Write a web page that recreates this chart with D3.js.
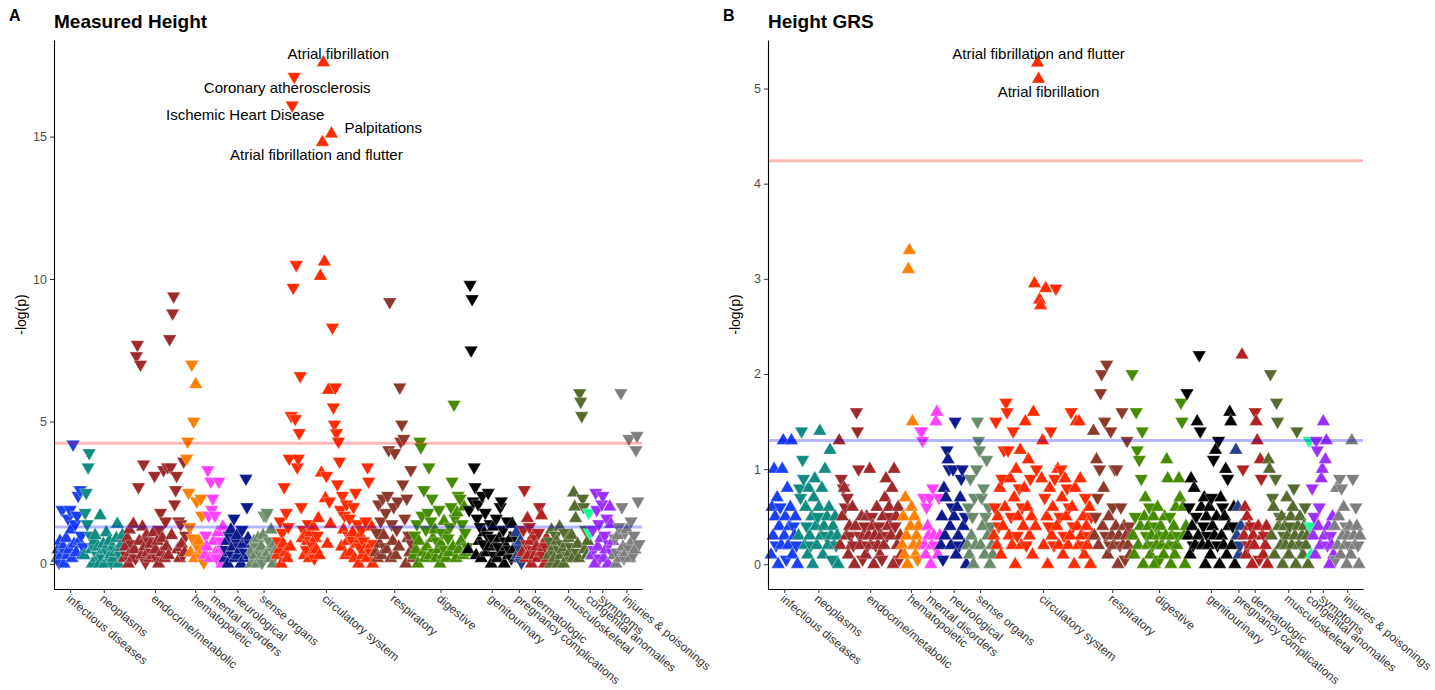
<!DOCTYPE html>
<html>
<head>
<meta charset="utf-8">
<script src="https://cdn.jsdelivr.net/npm/d3@7"></script>
<style>
  body { margin: 0; background: #fff; font-family: "Liberation Sans", Arial, sans-serif; }
</style>
</head>
<body>
<script>
const categories = ["infectious diseases", "neoplasms", "endocrine/metabolic", "hematopoietic",
    "mental disorders", "neurological", "sense organs", "circulatory system", "respiratory",
    "digestive", "genitourinary", "pregnancy complications", "dermatologic", "musculoskeletal",
    "congenital anomalies", "symptoms", "injuries & poisonings"];

const colors = ["#1a40f5", "#128c83", "#9e2a2b", "#ff7f00", "#ff40ff", "#0b1a8c", "#6b8a6b",
    "#ff2a00", "#8b3a2b", "#468c00", "#000000", "#27408b", "#b22222", "#556b2f", "#19ff9a",
    "#9b30ff", "#7f7f7f"];

// -log(p) per phenotype, one list per category in phecode order.
// negative sign = negative association (drawn as a down triangle)
const measuredHeight = [
    [0.2,0.5,-0.05,0.8,0.3,-1.9,0.6,0.0,-0.4,0.9, 0.3,-1.6,0.5,-1.9,1.2,0.2,-4.2,0.7,-1.4,0.4,
     -1.7,-2.4,0.8,-2.6,-1.0,0.3,-0.6],
    [0.3,-1.8,-2.5,-1.4,-3.4,-3.9,-1.0,0.5,0.0,-0.6, 0.8,1.0,0.2,-0.3,0.6,0.0,1.7,0.4,-0.2,0.7,
     0.0,0.5,1.1,-0.4,0.2,0.8,0.3,-0.05,0.6,0.2, -0.5,0.4,0.9,1.4,0.0,0.5,-0.3,0.7,1.0,0.2],
    [0.2,0.6,-0.3,0.9,0.0,1.2,0.4,-0.7,0.2,1.4, 0.5,-0.2,-7.3,-7.7,-2.7,0.8,-7.0,0.3,1.3,-3.5,
     0.6,-0.05,1.0,0.4,-0.8,0.2,0.7,-0.4,0.3,1.1, -3.1,0.5,-0.2,0.8,0.0,-1.2,-1.8,0.4,0.9,-3.3,
     0.2,-1.5,0.6,-3.4,0.3,-7.9,-3.4,1.0,-8.8,-9.4, -2.1,-2.6,-3.1,0.5,-1.5,0.2,-1.4,0.7,-0.3,-3.6,
     0.4,-1.0],
    [-3.7,-4.3,-2.5,-1.3,0.4,-7.0,-0.9,-5.0,0.2,6.3, -2.2,-0.6,0.8,-0.3,-2.3,-1.7,0.5,-0.05],
    [0.3,-1.0,0.6,-3.3,-1.7,0.2,-2.9,-1.9,-2.3,0.8, -1.7,0.4,-0.2,1.1,-2.9,0.5,-0.8,0.0,1.3,-0.4],
    [0.2,-0.5,0.8,0.0,-1.0,0.4,1.2,-0.3,0.6,-1.6, 0.2,-0.8,1.0,0.3,-0.6,0.5,0.0,-1.2,0.7,0.2,
     -0.4,-3.0,-2.0,0.9,0.3,-0.7],
    [0.0,0.5,-0.2,0.8,0.3,-0.6,0.0,0.9,-0.4,0.2, 0.6,-0.05,1.0,-1.7,0.3,-1.7,-1.8,0.4,-0.8,0.2,
     1.2,-0.5,0.0,0.7,-0.3,0.5],
    [0.3,-0.8,0.5,-1.5,0.0,-1.1,0.7,-2.7,0.4,-1.8, 0.2,-1.3,-3.7,0.6,-5.2,-16.1,-9.7,-17.1,-5.1,-10.5,
     -3.4,-3.7,-4.6,-6.6,-2.0,0.9,-1.2,0.3,1.0,-0.5, 0.8,-1.4,0.2,1.1,-0.7,0.4,1.3,-0.2,0.9,0.5,
     -1.0,1.6,0.3,10.1,3.2,14.8,17.6,10.6,2.3,-3.1, 0.7,6.1,-2.2,1.4,15.1,-8.3,-5.5,-4.9,-6.2,-4.6,
     -2.8,-4.3,-3.6,-1.9,0.6,-2.4,1.2,-1.7,0.3,-2.1, 0.8,-1.0,-1.6,0.4,-0.9,1.1,-2.0,0.2,-2.5,0.7,
     -1.4,0.0,-0.6,1.0,-1.2,0.3,-0.8,0.5,-1.5,0.2, -3.4,-2.9,0.6,-0.4,1.3,0.0,-0.7,0.4],
    [0.4,-1.1,0.2,-2.1,0.7,-1.5,0.3,-2.3,1.0,-0.6, -1.8,0.5,-2.4,-4.0,-9.2,0.2,-1.4,0.8,-2.0,-3.9,
     0.3,-1.2,-2.2,0.6,-6.2,-4.3,-4.9,-2.8,-4.4,-1.6, 0.0,-2.3,0.9,-1.0,0.4,-3.3,-0.7,0.2],
    [0.3,-1.0,0.5,-1.4,0.0,0.8,-4.3,-4.1,-1.7,0.4, -2.6,0.2,-1.2,0.6,-1.8,-3.4,0.3,-1.5,-2.3,0.9,
     -0.4,1.2,0.2,-0.8,0.5,-1.9,0.0,0.7,-1.1,0.3, 1.5,-0.5,0.2,1.0,-0.9,0.4,-1.3,-2.0,-2.9,0.6,
     -5.6,-1.6,0.2,1.8,-2.4,0.5,-2.3,0.8,-1.4,0.3, 2.0,-1.1,0.4,-0.6],
    [0.5,-1.9,-9.8,-7.5,-9.3,-2.2,-3.4,-2.7,0.3,-1.6, -2.1,0.8,-1.3,0.2,-2.4,-0.7,1.1,-1.8,0.4,-1.0,
     -2.5,0.6,-1.4,0.0,-0.9,1.3,-0.3,0.7,-1.6,0.2, -0.6,0.9,-2.0,-2.2,0.4,-1.2,0.0,-0.8,0.6,-1.5,
     0.3,-0.5,0.9,-0.2,1.4,0.5,-1.0,0.2],
    [1.1,0.3,-0.6,0.2,0.8,-0.05],
    [0.4,-1.2,-2.6,0.2,-0.7,1.6,0.3,-1.3,0.8,0.0, -0.5,1.0,0.3,-0.9,0.6,0.2,-1.1,-2.0,0.4,1.7,
     -0.3,0.7,0.0,-0.6,0.9,0.2],
    [0.3,-0.8,0.0,1.2,-0.4,0.6,0.2,-1.0,0.8,0.0, -0.5,1.3,0.3,-0.7,0.5,0.0,-1.1,0.7,0.2,-0.3,
     0.9,0.4,-0.6,1.0,0.2,2.5,2.0,1.6,-0.4,0.7, 0.2,-6.0,-5.7,-5.2,-2.3,-2.0,0.5,-1.2,0.3,0.8],
    [-1.8,-1.1,0.3],
    [0.3,-1.2,-0.5,0.0,-2.5,-1.9,0.6,-1.4,-0.2,0.9, -2.1,-2.4,0.2,-1.0,0.5,-1.6,0.0,-0.7,2.0,1.4,
     -0.4,0.8],
    [0.3,-0.9,0.0,-0.4,1.0,-1.3,0.2,-6.0,-2.0,0.6, -0.2,-1.1,0.4,1.2,-0.6,-4.4,0.2,-1.5,0.8,-0.3,
     -1.0,0.5,-4.0,-4.5,-2.2,-0.7]
];

const heightGRS = [
    [0.1,0.6,0.3,1.0,0.5,-0.2,0.7,0.0,0.4,-0.6, 0.2,1.0,1.3,0.3,0.5,-0.05,0.8,0.2,0.4,0.6,
     1.3,0.1,-0.4,0.3,0.5,-0.2,0.0],
    [0.3,-0.8,-0.7,-1.4,-1.1,-0.9,0.2,0.6,-0.4,0.1, 0.8,0.3,-0.2,0.5,0.0,0.7,0.9,0.4,0.2,-0.5,
     0.6,1.4,0.3,0.8,0.1,0.4,1.0,-0.3,0.5,0.2, 0.6,1.2,0.3,-0.05,0.4,0.2,0.5,-0.2,0.3,0.0],
    [1.3,0.2,-0.9,0.5,-0.8,0.8,-0.6,0.3,-0.7,0.1, 0.4,-0.3,0.2,0.6,-0.2,0.0,0.4,-1.6,-1.4,-1.0,
     -0.3,0.2,0.5,-0.05,0.3,-0.4,0.1,0.5,-0.2,0.3, 1.0,0.2,-0.5,0.4,0.0,0.3,-0.2,0.6,0.2,-0.4,
     0.1,0.3,-0.05,0.5,0.2,0.7,0.9,-0.3,0.4,0.6, -0.5,0.3,0.8,0.0,1.0,-0.4,0.5,0.2,0.6,-0.05,
     0.3,0.1],
    [0.2,0.5,0.1,0.7,0.3,0.0,3.1,3.3,0.4,0.6, 1.5,0.2,0.5,0.1,0.3,-0.05,0.4,0.2],
    [-1.4,-1.4,-1.3,-0.7,0.2,0.1,-0.6,0.4,0.3,-0.7, 0.0,0.2,-0.8,0.3,-0.2,1.5,1.6,0.1,-0.7,0.3],
    [0.2,0.5,-0.05,0.8,0.3,0.7,-1.2,1.1,-1.0,0.4, 0.2,-0.6,-1.0,0.5,-1.5,0.1,0.6,0.3,-0.2,0.7,
     -0.9,-1.0,0.4,0.2,-0.5,0.0],
    [0.2,-0.6,0.1,-0.9,0.3,-0.5,0.0,-0.7,0.2,-1.0, -1.5,-1.3,-1.2,0.2,-0.7,0.4,-0.8,0.1,-0.5,-1.1,
     0.3,-0.6,0.0,-0.4,0.2,0.1],
    [0.3,-0.6,-1.5,0.2,0.5,-0.4,0.8,0.1,-0.9,0.4, -1.2,0.6,-1.7,-1.6,-1.2,0.3,0.9,-0.5,0.2,-1.4,
     0.7,0.0,1.0,-0.3,0.5,-0.8,1.2,0.2,-0.6,0.4, 0.8,1.5,-0.2,0.6,1.1,0.3,-0.9,0.5,0.1,1.6,
     2.95,0.4,-1.0,5.27,5.10,2.78,2.72,0.9,1.3,0.2, -0.7,2.9,0.5,0.0,-0.4,0.8,-1.4,0.3,0.6,-0.2,
     -0.9,-2.9,0.4,1.0,0.2,-0.5,-1.0,0.7,0.1,-0.3, 0.9,0.5,-0.8,0.2,-0.6,0.3,-1.6,0.6,-0.4,0.0,
     0.8,1.5,0.4,0.2,1.5,0.9,0.3,-0.2,0.5,0.1, -0.7,0.4,0.2,-0.3,0.6,0.0,-0.5,0.3],
    [1.4,0.3,-0.5,1.1,-0.7,0.2,-1.0,-1.8,-2.0,0.4, 0.8,-1.5,-0.3,-2.1,0.1,0.5,-0.2,-1.4,0.3,-0.6,
     0.2,-1.0,0.4,-1.0,0.0,0.3,-0.2,-0.6,-1.6,0.2, 0.4,-0.05,0.3,-1.3,0.2,-0.4,0.1,0.3],
    [-2.0,0.3,0.1,-0.5,-1.6,-1.2,0.2,-1.1,0.4,-0.9, -1.4,0.0,0.5,0.7,-0.3,0.2,0.4,-0.6,0.1,0.3,
     -0.2,0.5,0.0,-0.4,0.2,0.6,0.3,-0.05,0.4,0.2, -0.3,0.1,0.5,0.3,1.1,0.9,0.2,-0.5,0.0,0.3,
     -0.2,0.4,0.1,0.6,0.2,-0.3,0.9,0.7,-1.7,-1.5, 0.6,0.3,0.0,0.4],
    [-1.8,0.3,-0.6,0.1,0.9,0.4,-0.2,0.8,0.2,-0.5, 1.5,0.3,-2.2,-1.4,0.6,0.2,-0.4,0.7,0.0,0.5,
     -0.3,0.2,0.6,0.1,-0.7,0.4,-1.1,0.3,1.2,0.5, -0.2,-1.3,0.0,0.7,0.3,-0.6,0.2,0.5,1.0,0.1,
     -0.9,0.4,1.6,1.5,0.2,-0.4,0.6,0.0],
    [1.2,0.3,0.6,0.1,-0.2,0.4],
    [2.2,-1.0,0.3,0.6,0.1,0.5,-0.2,0.4,0.2,-0.4, 0.0,0.3,0.2,-1.6,1.5,1.3,0.4,-0.05,1.1,-0.9,
     0.3,0.1,-0.3,0.2,0.4,0.0],
    [1.1,1.0,-2.0,0.3,-0.7,0.6,0.1,-0.9,-1.7,-1.5, 0.4,-0.5,0.2,0.5,0.0,-0.3,0.4,0.2,0.7,0.3,
     0.1,-0.4,0.5,0.2,0.6,-0.8,0.3,0.0,-1.4,0.4, 0.2,0.5,-0.2,0.3,0.1,0.4,-0.6,0.2,0.3,0.0],
    [-1.3,-0.4,0.1],
    [-0.8,0.3,-0.5,0.1,-1.3,-1.2,0.4,-0.6,0.2,0.9, 1.0,1.5,0.3,1.1,1.3,-0.2,0.4,0.0,-0.3,0.2,
     0.5,0.1],
    [0.4,-0.05,0.8,0.2,0.5,-0.9,0.1,-0.8,0.3,0.6, 0.2,-0.4,0.0,0.3,-0.2,0.4,0.1,1.3,-0.9,0.3,
     0.2,-0.6,0.4,-0.2,0.0,0.3]
];

const yTicksA = [0, 5, 10, 15];
const yTicksB = [0, 1, 2, 3, 4, 5];
const bonferroni = 4.24;   // -log10(0.05 / number of phecodes)
const nominal = 1.3;       // -log10(0.05)

const labelsA = [
    {text: "Atrial fibrillation", p: 17.6},
    {text: "Coronary atherosclerosis", p: 17.1},
    {text: "Ischemic Heart Disease", p: 16.1},
    {text: "Palpitations", p: 15.1},
    {text: "Atrial fibrillation and flutter", p: 14.8}
];
const labelsB = [
    {text: "Atrial fibrillation and flutter", p: 5.27},
    {text: "Atrial fibrillation", p: 5.10}
];

const width = 1435, height = 690;
const svg = d3.select("body").append("svg")
    .attr("width", width)
    .attr("height", height)
    .style("background", "#fff");

const counts = measuredHeight.map(a => a.length);
const starts = counts.map((c, i) => d3.sum(counts.slice(0, i)));
const N = d3.sum(counts);
const circ = categories.indexOf("circulatory system");

function drawPanel(opt) {
    const g = svg.append("g");

    // Scales
    const x = d3.scaleLinear()
                .domain([-3, N + 2])
                .range([opt.left, opt.right]);
    const y = d3.scaleLinear()
                .domain(opt.yDomain)
                .range([opt.bottom, opt.top]);

    const pts = [];
    opt.values.forEach((arr, c) => {
        arr.forEach((v, j) => pts.push({c: c, i: starts[c] + j, p: Math.abs(v), up: v >= 0}));
    });

    const tri = d3.symbol().type(d3.symbolTriangle).size(80);
    g.selectAll("path.pt").data(pts).enter().append("path")
        .attr("class", "pt")
        .attr("d", tri)
        .attr("transform", d => `translate(${x(d.i)},${y(d.p)})` + (d.up ? "" : " rotate(180)"))
        .attr("fill", d => colors[d.c])
        .attr("stroke", "#fff")
        .attr("stroke-width", 0.4)
        .attr("stroke-opacity", 0.8);

    // threshold lines
    [[bonferroni, "#ff0000"], [nominal, "#0000ff"]].forEach(([v, col]) => {
        g.append("line")
            .attr("x1", opt.left).attr("x2", opt.right)
            .attr("y1", y(v)).attr("y2", y(v))
            .attr("stroke", col)
            .attr("stroke-opacity", 0.28)
            .attr("stroke-width", 3);
    });

    // labels
    opt.labels.forEach((l, k) => {
        const pt = pts.find(d => d.c === circ && Math.abs(d.p - l.p) < 1e-6);
        const off = opt.labelOffsets[k];
        g.append("text")
            .attr("x", x(pt.i) + off[0])
            .attr("y", y(pt.p) + off[1])
            .attr("dy", "0.35em")
            .attr("text-anchor", off[2])
            .attr("font-size", "15px")
            .attr("fill", "#000")
            .text(l.text);
    });

    // y axis
    const yAx = g.append("g")
        .attr("transform", `translate(${opt.left},0)`)
        .call(d3.axisLeft(y).tickValues(opt.yTicks).tickFormat(d3.format("d"))
              .tickSize(4).tickSizeOuter(0).tickPadding(3));
    yAx.select(".domain").attr("stroke", "#000").attr("stroke-width", 1.1);
    yAx.selectAll(".tick line").attr("stroke", "#333");
    yAx.selectAll(".tick text")
        .attr("font-size", "12.5px")
        .attr("font-family", "Liberation Sans, Arial, sans-serif")
        .attr("fill", "#4d4d4d");

    // x axis
    const tickIdx = counts.map((c, i) => starts[i] + (c - 1) / 2);
    const xAx = g.append("g")
        .attr("transform", `translate(0,${opt.bottom})`)
        .call(d3.axisBottom(x).tickValues(tickIdx).tickFormat((d, i) => categories[i])
              .tickSize(4).tickSizeOuter(0));
    xAx.select(".domain").attr("stroke", "#000").attr("stroke-width", 1.1);
    xAx.selectAll(".tick line").attr("stroke", "#333");
    xAx.selectAll(".tick text")
        .attr("x", 0).attr("y", 0).attr("dy", 0)
        .attr("text-anchor", "start")
        .attr("transform", "translate(-5,11) rotate(40)")
        .attr("font-size", "12px")
        .attr("font-family", "Liberation Sans, Arial, sans-serif")
        .attr("fill", "#333");

    g.append("text")
        .attr("transform", `translate(${opt.left - 28},${(opt.top + opt.bottom) / 2}) rotate(-90)`)
        .attr("text-anchor", "middle")
        .attr("font-size", "14px")
        .attr("fill", "#000")
        .text("-log(p)");

    g.append("text")
        .attr("x", opt.left)
        .attr("y", 28)
        .attr("font-size", "19px")
        .attr("font-weight", "bold")
        .text(opt.title);
    g.append("text")
        .attr("x", opt.left - 45)
        .attr("y", 21)
        .attr("font-size", "16px")
        .attr("font-weight", "bold")
        .text(opt.tag);
}

drawPanel({
    left: 54, right: 642, top: 40, bottom: 589,
    yDomain: [-0.88, 18.39], yTicks: yTicksA,
    values: measuredHeight, title: "Measured Height", tag: "A",
    labels: labelsA,
    labelOffsets: [[15, -9, "middle"], [-7, 11, "middle"], [-47, 10, "middle"], [13, -6, "start"], [-6, 12, "middle"]]
});

drawPanel({
    left: 768, right: 1363, top: 40, bottom: 589,
    yDomain: [-0.26, 5.51], yTicks: yTicksB,
    values: heightGRS, title: "Height GRS", tag: "B",
    labels: labelsB,
    labelOffsets: [[1, -9, "middle"], [10, 13, "middle"]]
});
</script>
</body>
</html>
